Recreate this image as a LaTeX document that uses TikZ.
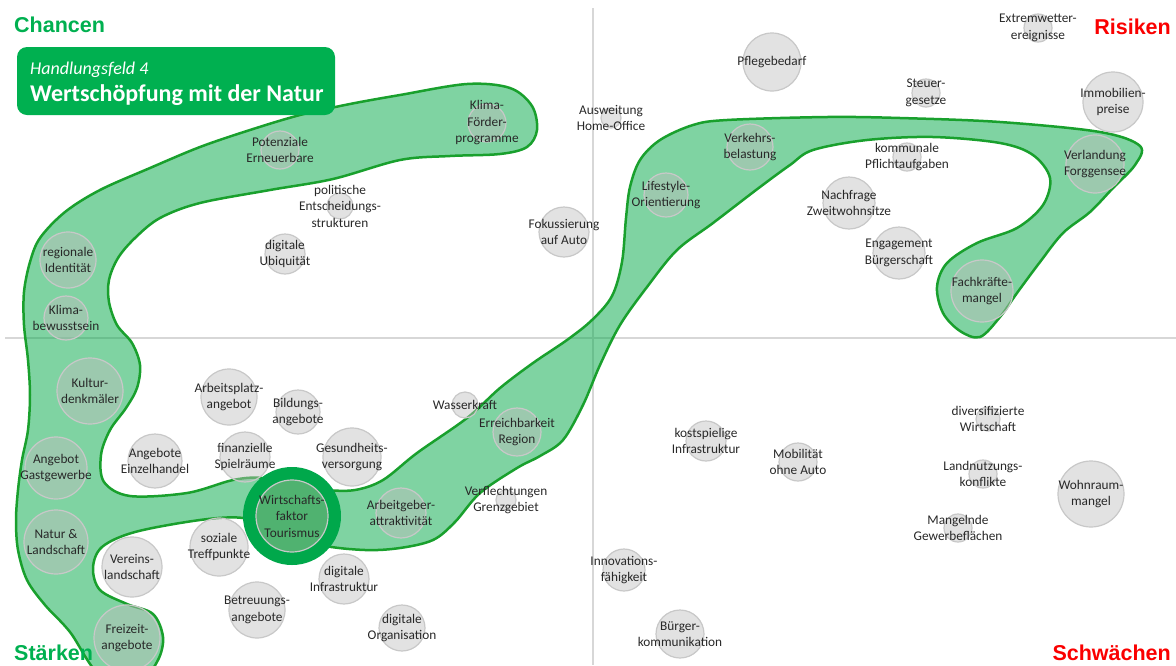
\documentclass[tikz,border=0pt]{standalone}
\usepackage{fontspec}
\setmainfont{Carlito}
\newfontfamily\headfont{Liberation Sans}
\definecolor{hfgreen}{RGB}{0,176,80}
\definecolor{hfred}{RGB}{250,0,0}
\definecolor{bandfill}{RGB}{0,168,70}
\definecolor{bandline}{RGB}{25,160,45}
\definecolor{ringgreen}{RGB}{0,168,75}
\definecolor{ringfill}{RGB}{80,178,112}
\definecolor{axisgray}{RGB}{215,215,215}
\definecolor{bubfill}{RGB}{190,190,190}
\definecolor{bubline}{RGB}{200,200,200}
\definecolor{txtgray}{RGB}{40,40,40}
\newcommand{\lblfont}{\fontsize{13.3}{16.5}\selectfont}
\begin{document}
\begin{tikzpicture}[x=1pt,y=-1pt,
	bub/.style={circle, minimum size=2*#1pt, inner sep=0pt, draw=bubline, line width=1.2pt, fill=bubfill, fill opacity=.45},
	lbl/.style={align=center, font=\lblfont, text=txtgray, fill opacity=1, text opacity=1, inner sep=0pt},
	corner/.style={font=\headfont\fontsize{21.5}{24}\selectfont\bfseries, inner sep=0pt}]
	\useasboundingbox (0,0) rectangle (1176,665);
	\clip (0,0) rectangle (1176,665);
	% Achsen
	\draw[axisgray, line width=2pt] (593,8) -- (593,665);
	\draw[axisgray, line width=2pt] (5,338) -- (1176,338);
	% Handlungsfeld
	\fill[bandfill, fill opacity=.5] plot[smooth cycle, tension=.55] coordinates {
		(537,130) (527,147) (500,154) (450,156) (400,160) (333,179) (270,190) (200,203)
		(160,218) (135,238) (118,258) (109,280) (109,302) (117,325) (132,343) (140,365)
		(137,388) (126,408) (110,430) (101,455) (104,482) (130,496) (187,493) (233,480)
		(262,478) (292,486) (325,490) (355,490) (383,480) (417,453) (467,418) (500,388)
		(533,363) (567,340) (592,320) (612,296) (622,262) (626,218) (630,187) (640,160)
		(660,140) (693,125) (727,120) (827,117) (900,118) (1000,122) (1100,132) (1140,146)
		(1135,165) (1113,188) (1090,212) (1063,233) (1040,262) (1017,293) (1000,317) (980,337)
		(960,331) (943,313) (937,287) (947,263) (977,243) (1017,228) (1043,205) (1050,178)
		(1033,155) (1000,143) (933,137) (867,140) (813,150) (790,165) (760,187) (713,223)
		(677,250) (647,287) (620,325) (600,365) (583,405) (563,440) (540,456) (517,468)
		(480,493) (455,522) (433,540) (400,548) (365,550) (320,545) (270,530) (243,518)
		(200,520) (135,532) (102,547) (93,568) (100,590) (127,604) (153,614) (163,637)
		(158,660) (140,680) (100,675) (70,632) (45,605) (27,580) (18,550) (16,520)
		(18,490) (22,460) (28,430) (30,395) (28,360) (24,325) (24,292) (30,262)
		(40,238) (65,212) (100,190) (150,168) (200,147) (250,130) (300,115) (350,104)
		(400,95) (467,84) (510,88) (532,106)};
	\draw[bandline, line width=2.5pt] plot[smooth cycle, tension=.55] coordinates {
		(537,130) (527,147) (500,154) (450,156) (400,160) (333,179) (270,190) (200,203)
		(160,218) (135,238) (118,258) (109,280) (109,302) (117,325) (132,343) (140,365)
		(137,388) (126,408) (110,430) (101,455) (104,482) (130,496) (187,493) (233,480)
		(262,478) (292,486) (325,490) (355,490) (383,480) (417,453) (467,418) (500,388)
		(533,363) (567,340) (592,320) (612,296) (622,262) (626,218) (630,187) (640,160)
		(660,140) (693,125) (727,120) (827,117) (900,118) (1000,122) (1100,132) (1140,146)
		(1135,165) (1113,188) (1090,212) (1063,233) (1040,262) (1017,293) (1000,317) (980,337)
		(960,331) (943,313) (937,287) (947,263) (977,243) (1017,228) (1043,205) (1050,178)
		(1033,155) (1000,143) (933,137) (867,140) (813,150) (790,165) (760,187) (713,223)
		(677,250) (647,287) (620,325) (600,365) (583,405) (563,440) (540,456) (517,468)
		(480,493) (455,522) (433,540) (400,548) (365,550) (320,545) (270,530) (243,518)
		(200,520) (135,532) (102,547) (93,568) (100,590) (127,604) (153,614) (163,637)
		(158,660) (140,680) (100,675) (70,632) (45,605) (27,580) (18,550) (16,520)
		(18,490) (22,460) (28,430) (30,395) (28,360) (24,325) (24,292) (30,262)
		(40,238) (65,212) (100,190) (150,168) (200,147) (250,130) (300,115) (350,104)
		(400,95) (467,84) (510,88) (532,106)};
	% Chancen
	\node (Po) at (280,150) [bub=19, label={[lbl]center:{Potenziale\\Erneuerbare}}] {};
	\node (Pe) at (340,206) [bub=13, label={[lbl]center:{politische\\Entscheidungs-\\strukturen}}] {};
	\node (Kf) at (487,123) [bub=19, label={[lbl]center:{Klima-\\Förder-\\programme}}] {};
	\node (Du) at (285,254) [bub=20, label={[lbl]center:{digitale\\Ubiquität}}] {};
	\node (Ri) at (68,260) [bub=28, label={[lbl]center:{regionale\\Identität}}] {};
	\node (Kb) at (66,318) [bub=22, label={[lbl]center:{Klima-\\bewusstsein}}] {};
	\node (Ah) at (611,118) [bub=10, label={[lbl]center:{Ausweitung\\Home-Office}}] {};
	\node (Fa) at (564,232) [bub=25, label={[lbl]center:{Fokussierung\\auf Auto}}] {};
	% Risiken
	\node (Pf) at (772,62) [bub=29, label={[lbl]center:{Pflegebedarf}}] {};
	\node (Lo) at (666,195) [bub=22, label={[lbl]center:{Lifestyle-\\Orientierung}}] {};
	\node (Vb) at (750,147) [bub=23, label={[lbl]center:{Verkehrs-\\belastung}}] {};
	\node (Ex) at (1038,28) [bub=14, label={[lbl]center:{Extremwetter-\\ereignisse}}] {};
	\node (St) at (926,93) [bub=14, label={[lbl]center:{Steuer-\\gesetze}}] {};
	\node (Im) at (1113,102) [bub=30, label={[lbl]center:{Immobilien-\\preise}}] {};
	\node (Kp) at (907,157) [bub=14, label={[lbl]center:{kommunale\\Pflichtaufgaben}}] {};
	\node (Vf) at (1095,164) [bub=29, label={[lbl]center:{Verlandung\\Forggensee}}] {};
	\node (Nz) at (849,203) [bub=26, label={[lbl]center:{Nachfrage\\Zweitwohnsitze}}] {};
	\node (Eb) at (899,253) [bub=26, label={[lbl]center:{Engagement\\Bürgerschaft}}] {};
	\node (Fm) at (982,291) [bub=31, label={[lbl]center:{Fachkräfte-\\mangel}}] {};
	% Staerken
	\node (Kd) at (90,391) [bub=33, label={[lbl]center:{Kultur-\\denkmäler}}] {};
	\node (Ap) at (229,397) [bub=28, label={[lbl]center:{Arbeitsplatz-\\angebot}}] {};
	\node (Ba) at (298,412) [bub=22, label={[lbl]center:{Bildungs-\\angebote}}] {};
	\node (Ag) at (56,468) [bub=31, label={[lbl]center:{Angebot\\Gastgewerbe}}] {};
	\node (Ae) at (155,461) [bub=27, label={[lbl]center:{Angebote\\Einzelhandel}}] {};
	\node (Fs) at (245,457) [bub=25, label={[lbl]center:{finanzielle\\Spielräume}}] {};
	\node (Gv) at (352,457) [bub=29, label={[lbl]center:{Gesundheits-\\versorgung}}] {};
	\node (Aa) at (401,513) [bub=25, label={[lbl]center:{Arbeitgeber-\\attraktivität}}] {};
	\node (Wk) at (465,405) [bub=13, label={[lbl]center:{Wasserkraft}}] {};
	\node (Er) at (517,432) [bub=24, label={[lbl]center:{Erreichbarkeit\\Region}}] {};
	\node (Vg) at (506,500) [bub=10, label={[lbl]center:{Verflechtungen\\Grenzgebiet}}] {};
	\node (Nl) at (56,542) [bub=32, label={[lbl]center:{Natur \&\\Landschaft}}] {};
	\node (Vl) at (132,567) [bub=30, label={[lbl]center:{Vereins-\\landschaft}}] {};
	\node (Tp) at (219,547) [bub=29, label={[lbl]center:{soziale\\Treffpunkte}}] {};
	\node (Di) at (344,579) [bub=25, label={[lbl]center:{digitale\\Infrastruktur}}] {};
	\node (Bt) at (257,610) [bub=28, label={[lbl]center:{Betreuungs-\\angebote}}] {};
	\node (Do) at (402,628) [bub=23, label={[lbl]center:{digitale\\Organisation}}] {};
	\node (Fz) at (127,638) [bub=33, label={[lbl]center:{Freizeit-\\angebote}}] {};
	% Schwaechen
	\node (Ki) at (706,441) [bub=20, label={[lbl]center:{kostspielige\\Infrastruktur}}] {};
	\node (Mo) at (798,462) [bub=19, label={[lbl]center:{Mobilität\\ohne Auto}}] {};
	\node (Dw) at (988,419) [bub=12, label={[lbl]center:{diversifizierte\\Wirtschaft}}] {};
	\node (Lk) at (983,474) [bub=14, label={[lbl]center:{Landnutzungs-\\konflikte}}] {};
	\node (Wm) at (1091,494) [bub=33, label={[lbl]center:{Wohnraum-\\mangel}}] {};
	\node (Mg) at (958,528) [bub=14, label={[lbl]center:{Mangelnde\\Gewerbeflächen}}] {};
	\node (If) at (624,570) [bub=21, label={[lbl]center:{Innovations-\\fähigkeit}}] {};
	\node (Bk) at (680,634) [bub=24, label={[lbl]center:{Bürger-\\kommunikation}}] {};
	% Wirtschaftsfaktor Tourismus
	\node (Wi) at (292,516) [circle, minimum size=85pt, inner sep=0pt, draw=ringgreen, line width=13pt, fill=ringfill] {};
	\node (Wt) at (Wi) [circle, minimum size=72pt, inner sep=0pt, draw=bubline, line width=1.2pt,
		label={[lbl]center:{Wirtschafts-\\faktor\\Tourismus}}] {};
	% Titel
	\node (Hf) at (176,81) [fill=hfgreen, rounded corners=10pt, minimum width=318pt, minimum height=68pt] {};
	\node (Hn) at (30,74) [anchor=base west, inner sep=0pt, text=white, font=\fontsize{18}{20}\selectfont\itshape] {Handlungsfeld 4};
	\node (Wn) at (30,101) [anchor=base west, inner sep=0pt, text=white, font=\fontsize{24}{26}\selectfont\bfseries] {Wertschöpfung mit der Natur};
	% Quadranten
	\node (Ch) at (14,32) [corner, anchor=base west, text=hfgreen] {Chancen};
	\node (Rk) at (1171,34) [corner, anchor=base east, text=hfred] {Risiken};
	\node (Sk) at (14,660) [corner, anchor=base west, text=hfgreen] {Stärken};
	\node (Sw) at (1171,660) [corner, anchor=base east, text=hfred] {Schwächen};
\end{tikzpicture}
\end{document}
